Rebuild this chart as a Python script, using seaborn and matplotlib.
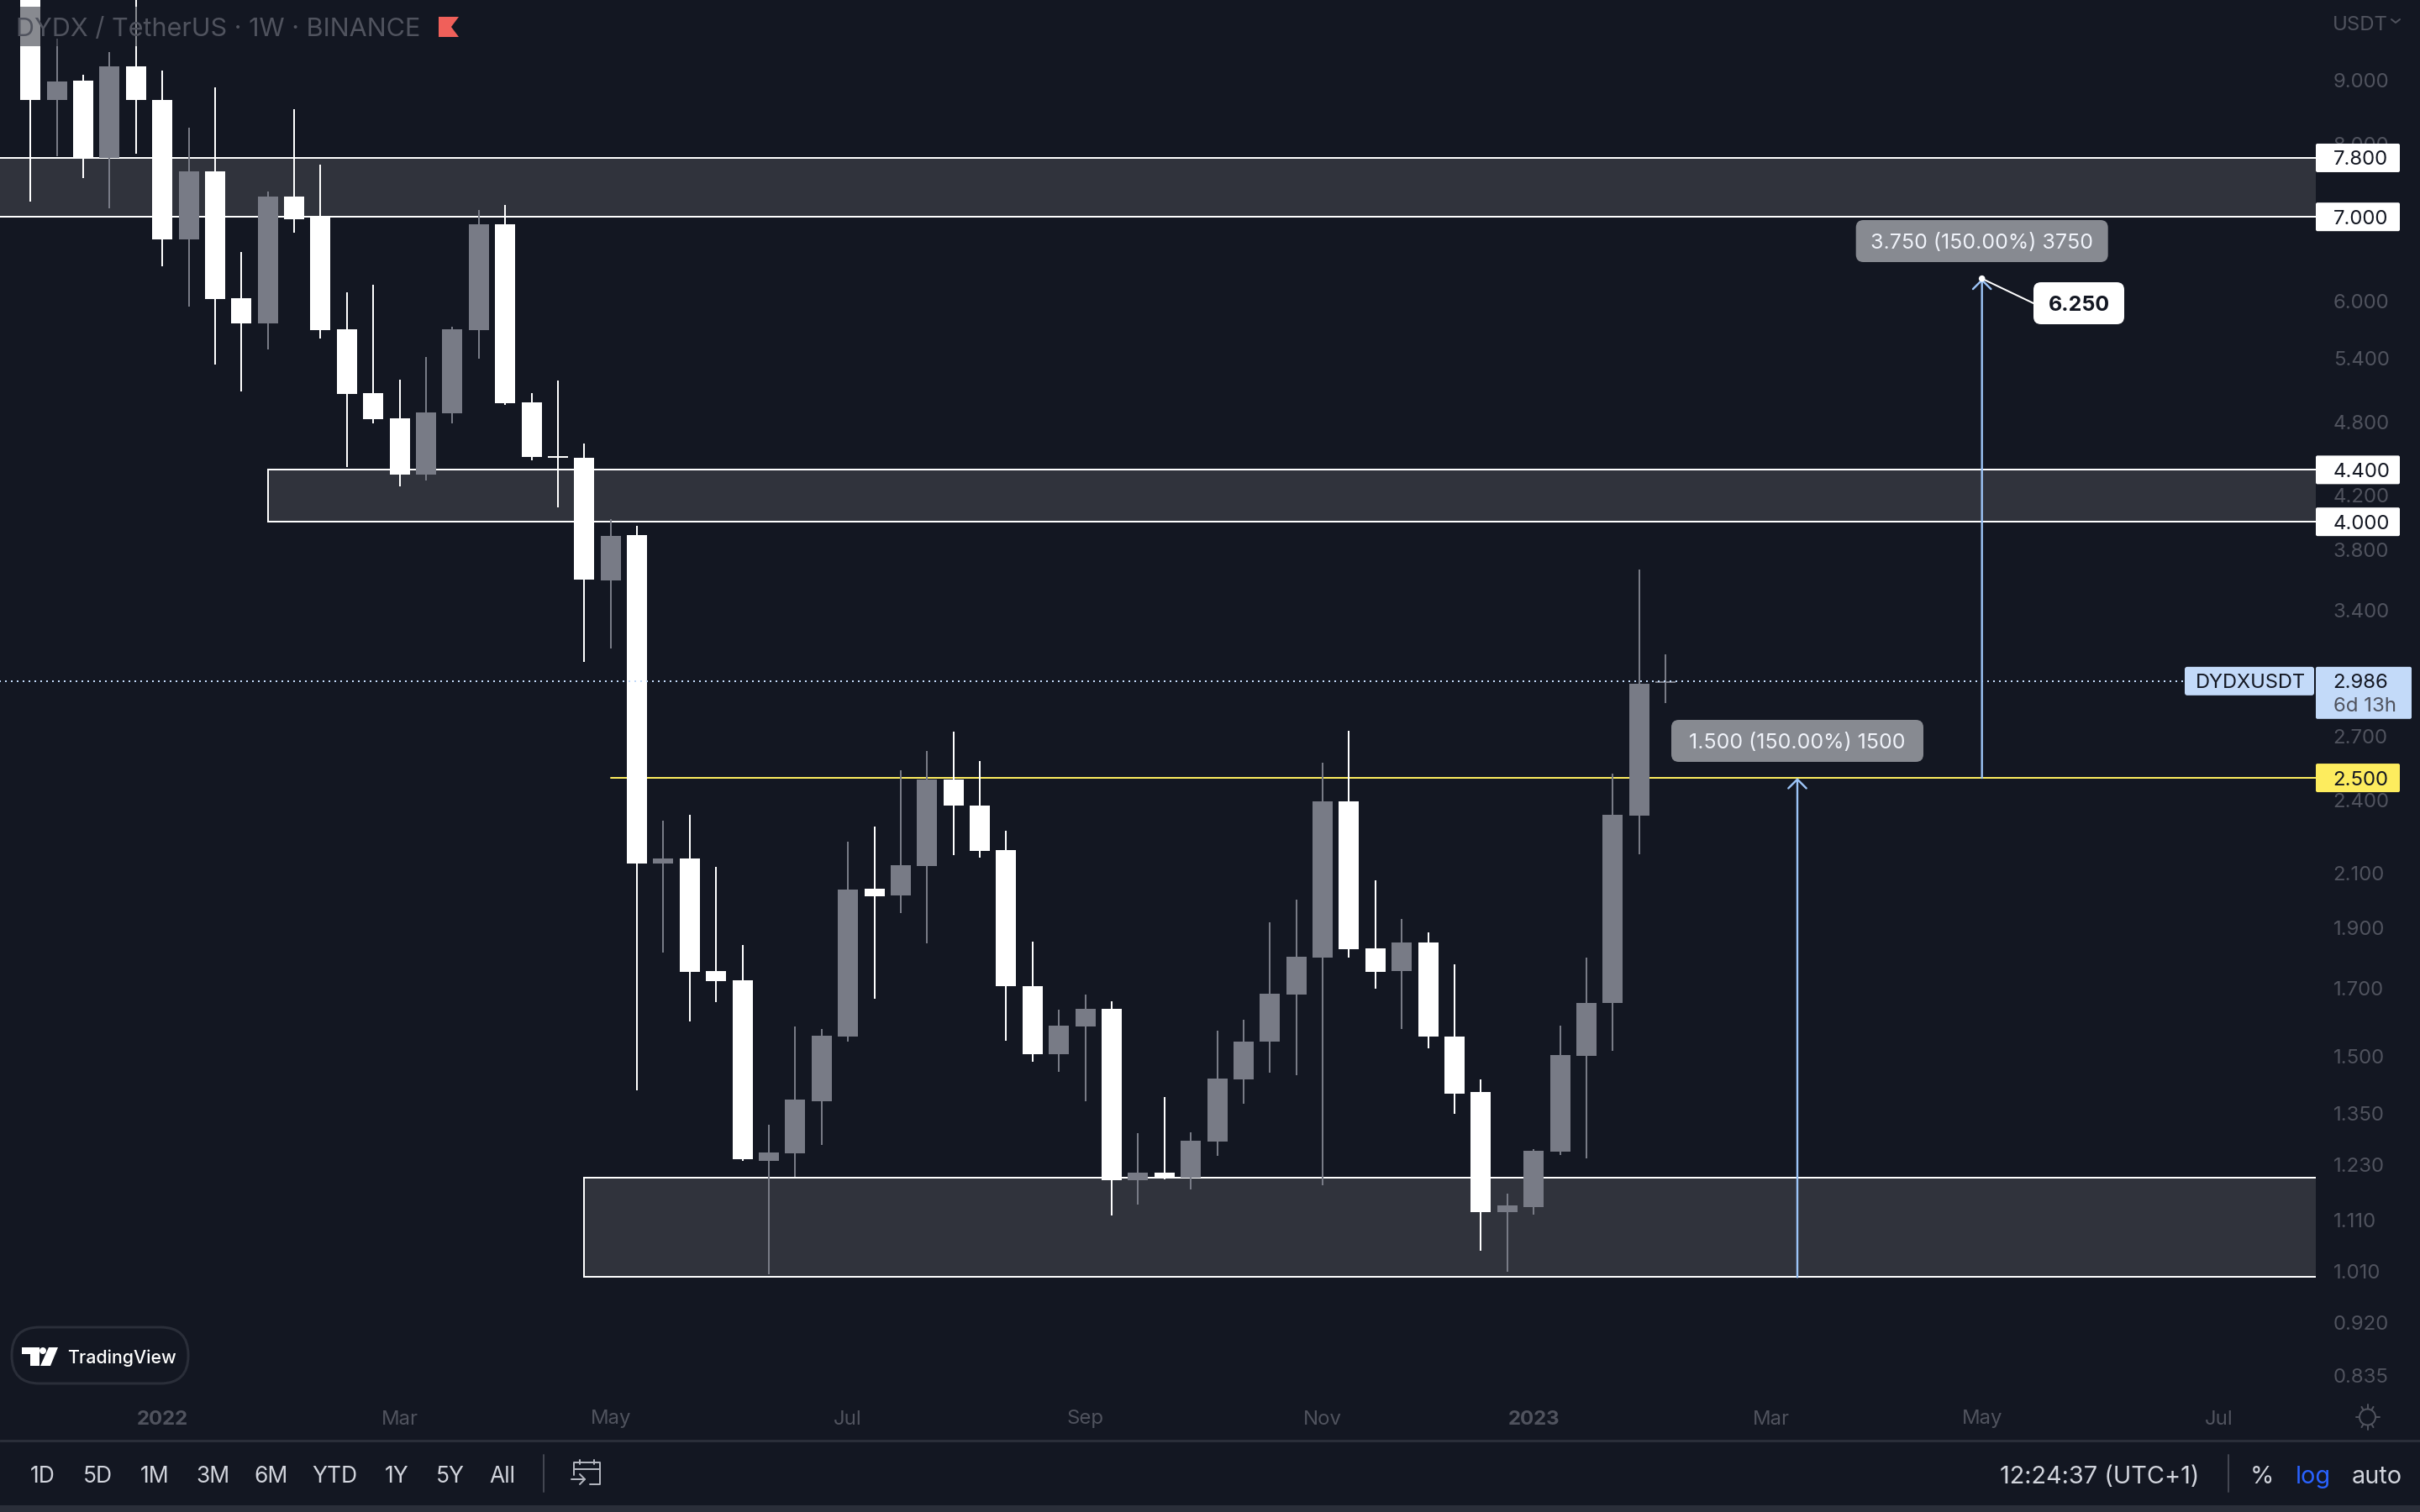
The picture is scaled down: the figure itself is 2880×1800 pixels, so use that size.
import numpy as np
import pandas as pd
import seaborn as sns
import matplotlib.pyplot as plt
from matplotlib.patches import Rectangle, FancyBboxPatch, Polygon, Circle

# weekly candles (values above the top edge are estimates)
opens = [10.57, 8.672, 8.994, 7.802, 9.231, 8.681, 6.719, 7.611, 6.033, 5.758, 7.269,
         6.994, 5.698, 5.069, 4.839, 4.363, 4.884, 5.690, 6.909, 4.983, 4.512, 4.499,
         3.593, 3.905, 2.137, 2.157, 1.754, 1.724, 1.238, 1.255, 1.381, 1.554, 2.040,
         2.015, 2.128, 2.493, 2.377, 2.191, 1.707, 1.505, 1.584, 1.637, 1.194, 1.211,
         1.200, 1.283, 1.438, 1.540, 1.680, 1.797, 2.395, 1.829, 1.754, 1.849, 1.556,
         1.404, 1.126, 1.138, 1.259, 1.501, 1.654, 2.333, 2.977]
closes = [8.672, 8.979, 7.799, 9.220, 8.672, 6.719, 7.611, 6.022, 5.758, 7.269, 6.973,
          5.690, 5.060, 4.832, 4.363, 4.890, 5.698, 6.909, 4.974, 4.502, 4.499, 3.600,
          3.897, 2.137, 2.157, 1.751, 1.722, 1.241, 1.257, 1.385, 1.558, 2.038, 2.013,
          2.130, 2.493, 2.375, 2.186, 1.706, 1.505, 1.587, 1.637, 1.194, 1.211, 1.200,
          1.285, 1.440, 1.540, 1.682, 1.800, 2.395, 1.826, 1.751, 1.849, 1.556, 1.401,
          1.126, 1.140, 1.261, 1.504, 1.654, 2.337, 2.971, 2.986]
highs = [10.90, 9.713, 9.091, 9.479, 10.74, 9.161, 8.247, 8.883, 6.567, 7.336, 8.534,
         7.706, 6.097, 6.184, 5.194, 5.416, 5.725, 7.091, 7.158, 5.069, 5.187, 4.621,
         4.021, 3.970, 2.311, 2.338, 2.124, 1.840, 1.323, 1.584, 1.578, 2.225, 2.287,
         2.537, 2.625, 2.721, 2.579, 2.269, 1.851, 1.634, 1.680, 1.659, 1.303, 1.392,
         1.304, 1.573, 1.604, 1.919, 1.999, 2.569, 2.726, 2.072, 1.930, 1.883, 1.775,
         1.438, 1.166, 1.265, 1.587, 1.797, 2.521, 3.666, 3.134]
lows = [7.200, 7.820, 7.512, 7.107, 7.866, 6.397, 5.933, 5.342, 5.078, 5.485, 6.795,
        5.601, 4.420, 4.795, 4.267, 4.312, 4.790, 5.393, 4.954, 4.476, 4.105, 3.093,
        3.170, 1.408, 1.815, 1.599, 1.656, 1.237, 1.005, 1.203, 1.274, 1.541, 1.668,
        1.952, 1.846, 2.170, 2.161, 1.544, 1.485, 1.457, 1.381, 1.120, 1.142, 1.196,
        1.174, 1.249, 1.375, 1.455, 1.449, 1.183, 1.799, 1.699, 1.577, 1.522, 1.349,
        1.049, 1.010, 1.122, 1.251, 1.243, 1.515, 2.172, 2.868]

price_ticks = [9.0, 8.0, 6.0, 5.4, 4.8, 4.2, 3.8, 3.4, 2.7, 2.4, 2.1, 1.9, 1.7, 1.5,
               1.35, 1.23, 1.11, 1.01, 0.92, 0.835]
time_ticks = [5, 14, 22, 31, 40, 49, 57, 66, 74, 83]
time_labels = ["2022", "Mar", "May", "Jul", "Sep", "Nov", "2023", "Mar", "May", "Jul"]
year_labels = ["2022", "2023"]

zone_starts = [-5, 9, 21]
zone_lows = [7.0, 4.0, 1.0]
zone_highs = [7.8, 4.4, 1.2]

white_tags = [7.8, 7.0, 4.4, 4.0]
last_price = 2.986
level = 2.5
level_start = 22
target_price = 6.25
range_buttons = ["1D", "5D", "1M", "3M", "6M", "YTD", "1Y", "5Y", "All"]

BG = "#131722"
UP = "#787b86"
DOWN = "#ffffff"
ZONE = "#30333c"
MUTED = "#50535e"
BLUE = "#9cc4f7"
TAG_BLUE = "#c3daf9"
YELLOW = "#fdec5e"
PX = 72 / 200  # one pixel in points

sns.set_theme(style="dark", rc={"axes.facecolor": BG, "figure.facecolor": BG})
plt.rcParams["font.family"] = ["Inter", "DejaVu Sans"]

fig = plt.figure(figsize=(14.4, 9), dpi=200)
ax = fig.add_axes([0, 140 / 1800, 2756 / 2880, 1660 / 1800])
ax.set_yscale("log")

bars = np.arange(len(opens))
kind = ["up" if c > o else "down" for o, c in zip(opens, closes)]
wicks = pd.DataFrame({"bar": np.r_[bars, bars], "price": lows + highs, "kind": kind + kind})
bodies = pd.DataFrame({"bar": np.r_[bars, bars], "price": opens + closes, "kind": kind + kind})
colors = {"up": UP, "down": DOWN}

for start, lo, hi in zip(zone_starts, zone_lows, zone_highs):
    ax.add_patch(Rectangle((start, lo), 120, hi - lo, fc=ZONE, ec="white", lw=2 * PX, zorder=1))

ax.plot([level_start, 100], [level, level], color=YELLOW, lw=2 * PX, zorder=1.5)

sns.lineplot(data=wicks, x="bar", y="price", hue="kind", units="bar", estimator=None,
             palette=colors, legend=False, sort=False, lw=2 * PX, solid_capstyle="butt",
             zorder=2, ax=ax)
sns.lineplot(data=bodies, x="bar", y="price", hue="kind", units="bar", estimator=None,
             palette=colors, legend=False, sort=False, lw=24 * PX, solid_capstyle="butt",
             zorder=2.1, ax=ax)

ax.plot([-5, 100], [last_price, last_price], color=TAG_BLUE, lw=2 * PX, dashes=(1, 2.5), zorder=3)

# long position arrows
arrow = dict(arrowstyle="->,head_length=0.55,head_width=0.55", color=BLUE, lw=2.4 * PX,
             shrinkA=0, shrinkB=0, mutation_scale=7)
ax.annotate("", xy=(74, target_price), xytext=(74, level), arrowprops=arrow, zorder=3)
ax.annotate("", xy=(67, level), xytext=(67, zone_lows[2]), arrowprops=arrow, zorder=3)

ax.set_xlim(-36.2 / 31.385, (2756 - 36.2) / 31.385)
ax.set_ylim(0.8064, 10.422)
ax.set_xlabel("")
ax.set_ylabel("")
ax.grid(False)
for s in ax.spines.values():
    s.set_visible(False)

ax.yaxis.tick_right()
ax.set_yticks(price_ticks)
ax.set_yticklabels([f"{t:.3f}" for t in price_ticks])
ax.minorticks_off()
ax.tick_params(axis="y", length=0, pad=20.6 * PX, labelsize=8.64, colors=MUTED)
ax.set_xticks(time_ticks)
ax.set_xticklabels(time_labels)
ax.tick_params(axis="x", length=0, pad=18.5 * PX, labelsize=8.64, colors=MUTED)
for lab in ax.get_xticklabels():
    if lab.get_text() in year_labels:
        lab.set_fontweight("bold")

# everything else sits on a pixel overlay, the tags follow the price scale
ui = fig.add_axes([0, 0, 1, 1])
ui.set_xlim(0, 2880)
ui.set_ylim(1800, 0)
ui.axis("off")


def price_y(p):
    return 1800 - ax.transData.transform((0, p))[1]


def arrow_x(b):
    return ax.transData.transform((b, 1))[0]


def tag(x0, x1, y0, y1, color, r=4):
    ui.add_patch(FancyBboxPatch((x0 + r, y0 + r), x1 - x0 - 2 * r, y1 - y0 - 2 * r,
                                boxstyle=f"round,pad={r},rounding_size={r}", fc=color, ec="none"))


for p in white_tags:
    y = price_y(p)
    tag(2756, 2856, y - 17, y + 17, "white", 2)
    ui.text(2776.6, y, f"{p:.3f}", color="#131722", fontsize=8.64, va="center_baseline")

y = price_y(level)
tag(2756, 2856, y - 17, y + 17, YELLOW, 2)
ui.text(2776.6, y, f"{level:.3f}", color="#131722", fontsize=8.64, va="center_baseline")

y = price_y(last_price)
tag(2600, 2754, y - 17, y + 17, TAG_BLUE, 3)
ui.text(2613, y, "DYDXUSDT", color="#131722", fontsize=8.5, va="center_baseline")
tag(2756, 2870, y - 17, y + 45, TAG_BLUE, 2)
ui.text(2776.6, y, f"{last_price:.3f}", color="#131722", fontsize=8.64, va="center_baseline")
ui.text(2776.6, y + 28, "6d 13h", color=MUTED, fontsize=8.64, va="center_baseline")

# measure labels
x = arrow_x(74)
tag(x - 150, x + 150, 262, 312, "#878a91", 9)
ui.text(x, 287, "3.750 (150.00%) 3750", color="#f0f3fa", fontsize=9, ha="center", va="center_baseline")
x67 = arrow_x(67)
tag(x67 - 150, x67 + 150, 857, 907, "#878a91", 9)
ui.text(x67, 882, "1.500 (150.00%) 1500", color="#f0f3fa", fontsize=9, ha="center", va="center_baseline")

# 6.250 callout
y = price_y(target_price)
ui.plot([x, 2420], [y, 361], color="white", lw=2 * PX)
ui.add_patch(Circle((x, y), 3.8, fc="white", ec="none", zorder=4))
tag(2420, 2528, 336, 386, "white", 9)
ui.text(2474, 361, "6.250", color="#131722", fontsize=9, fontweight="bold", ha="center", va="center_baseline")

# title with its see-through backing
ui.add_patch(Rectangle((10, 8), 545, 47, fc=BG, alpha=0.5, ec="none"))
ui.text(19, 32.5, "DYDX / TetherUS · 1W · BINANCE", color=MUTED, fontsize=11, va="center_baseline")
ui.add_patch(Polygon([(522, 20), (546, 20), (537, 32), (546, 44), (522, 44)], fc="#f0605a", ec="none"))
ui.text(2776, 27.5, "USDT", color=MUTED, fontsize=8.64, va="center_baseline")
ui.plot([2846, 2851, 2856], [23, 27, 23], color=MUTED, lw=2 * PX)

# TradingView badge
ui.add_patch(FancyBboxPatch((47, 1613), 144, 1, boxstyle="round,pad=33,rounding_size=33",
                            fc=BG, ec="#2a2e39", lw=3 * PX))
ui.add_patch(Polygon([(26, 1604), (47, 1604), (47, 1626), (36, 1626), (36, 1612), (26, 1612)], fc="white", ec="none"))
ui.add_patch(Circle((51, 1608), 4, fc="white", ec="none"))
ui.add_patch(Polygon([(58, 1604), (69, 1604), (60, 1626), (48, 1626)], fc="white", ec="none"))
ui.text(80, 1615, "TradingView", color="white", fontsize=7.7, fontweight="medium", va="center_baseline")

# gear icon on the time axis
ui.add_patch(Circle((2817.5, 1687), 9.5, fc="none", ec=MUTED, lw=2 * PX))
for a in np.deg2rad(np.arange(30, 360, 60)):
    ui.plot([2817.5 + 10 * np.sin(a), 2817.5 + 14 * np.sin(a)],
            [1687 + 10 * np.cos(a), 1687 + 14 * np.cos(a)], color=MUTED, lw=2 * PX)
ui.plot([2817.5, 2817.5], [1672, 1677], color=MUTED, lw=2 * PX)
ui.plot([2817.5, 2817.5], [1697, 1702], color=MUTED, lw=2 * PX)

# bottom toolbar
ui.plot([0, 2880], [1714.7, 1714.7], color="#2a2e39", lw=3 * PX)
ui.add_patch(Rectangle((0, 1792), 2880, 8, fc="#2a2e39", ec="none"))
button_x = [51, 116.7, 184, 253, 322, 398.6, 472.6, 535.7, 597.6]
for bx, name in zip(button_x, range_buttons):
    ui.text(bx, 1755, name, color="#d1d4dc", fontsize=9.5, ha="center", va="center_baseline")
ui.plot([646.7, 646.7], [1732, 1776], color="#434651", lw=2 * PX)
ui.plot([2652, 2652], [1732, 1776], color="#434651", lw=2 * PX)

# calendar icon
ico = dict(color="#b2b5be", lw=2 * PX)
ui.plot([683, 683, 714, 714, 702], [1756, 1741, 1741, 1767, 1767], **ico)
ui.plot([683, 714], [1749, 1749], **ico)
ui.plot([690, 690], [1738, 1743], **ico)
ui.plot([707, 707], [1738, 1743], **ico)
ui.plot([680, 696], [1761, 1761], **ico)
ui.plot([690, 696, 690], [1755, 1761, 1767], **ico)

ui.text(2617, 1755, "12:24:37 (UTC+1)", color="#d1d4dc", fontsize=10.4, ha="right", va="center_baseline")
ui.text(2692, 1755, "%", color="#d1d4dc", fontsize=10.4, ha="center", va="center_baseline")
ui.text(2753, 1755, "log", color="#2962ff", fontsize=10.4, ha="center", va="center_baseline")
ui.text(2829, 1755, "auto", color="#d1d4dc", fontsize=10.4, ha="center", va="center_baseline")

fig.savefig("out.png", dpi=200, facecolor=BG)
